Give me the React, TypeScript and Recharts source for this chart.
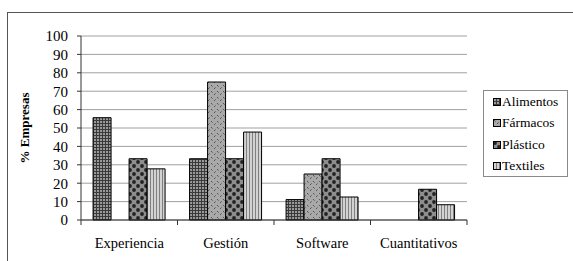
import React from 'react';
import { BarChart, Bar, XAxis, YAxis, CartesianGrid, Legend } from 'recharts';

const categories = ['Experiencia', 'Gestión', 'Software', 'Cuantitativos'];
const seriesNames = ['Alimentos', 'Fármacos', 'Plástico', 'Textiles'];
const alimentos = [55.6, 33.3, 11.1, 0];
const farmacos = [0, 75, 25, 0];
const plastico = [33.3, 33.3, 33.3, 16.7];
const textiles = [27.8, 47.8, 12.5, 8.3];
const yTicks = [0, 10, 20, 30, 40, 50, 60, 70, 80, 90, 100];

const seriesValues = [alimentos, farmacos, plastico, textiles];
const patternIds = ['pAlim', 'pFarm', 'pPlas', 'pText'];

const data = categories.map((name, i) => {
  const row: Record<string, string | number> = { name };
  seriesNames.forEach((s, j) => {
    row[s] = seriesValues[j][i];
  });
  return row;
});

const FONT = "'Liberation Serif', 'DejaVu Serif', serif";

const XTick = (props: any) => {
  const { x, y, payload, index, width, visibleTicksCount } = props;
  const n = visibleTicksCount || categories.length;
  const band = (width || 386) / n;
  const axisY = y - 5;
  const left = x - band / 2;
  const right = x + band / 2;
  return (
    <g>
      <line x1={left} x2={left} y1={axisY} y2={axisY + 5} stroke="#333" strokeWidth={1} />
      {index === n - 1 && <line x1={right} x2={right} y1={axisY} y2={axisY + 5} stroke="#333" strokeWidth={1} />}
      <text x={x} y={axisY + 28} textAnchor="middle" style={{ fontFamily: FONT }} fontSize={14.5} fill="#000">
        {payload.value}
      </text>
    </g>
  );
};

const LegendBox = () => (
  <div
    style={{
      width: 85,
      height: 87,
      border: '1px solid #8a8a8a',
      background: '#fff',
      boxSizing: 'border-box',
      fontFamily: FONT,
      fontSize: 13.5,
      color: '#000',
    }}
  >
    {seriesNames.map((n, i) => (
      <div key={n} style={{ display: 'flex', alignItems: 'center', height: 21.5, paddingLeft: 9 }}>
        <svg width={8} height={8} style={{ display: 'block' }}>
          <rect x={0.5} y={0.5} width={7} height={7} fill={`url(#${patternIds[i]})`} stroke="#000" strokeWidth={1} />
        </svg>
        <span style={{ marginLeft: 1, lineHeight: '14px' }}>{n}</span>
      </div>
    ))}
  </div>
);

export default function App() {
  return (
    <div style={{ position: 'absolute', left: 0, top: 0, width: 573, height: 261, background: '#fff', overflow: 'hidden', fontFamily: FONT }}>
      <div
        style={{
          position: 'absolute',
          left: 7,
          top: 12,
          right: -2,
          bottom: -2,
          borderTop: '1px solid #555',
          borderLeft: '1px solid #555',
        }}
      />
      <div style={{ position: 'absolute', left: 0, top: 0 }}>
        <BarChart
          width={573}
          height={261}
          data={data}
          margin={{ top: 36, right: 106, bottom: 11, left: 0 }}
          barCategoryGap="12.5%"
          barGap={0}
        >
          <defs>
            <pattern id="pAlim" patternUnits="userSpaceOnUse" width={3} height={3}>
              <rect width={3} height={3} fill="#9a9a9a" />
              <path d="M0 0.5H3M0.5 0V3" stroke="#3a3a3a" strokeWidth={1} />
            </pattern>
            <pattern id="pFarm" patternUnits="userSpaceOnUse" width={6} height={6}>
              <rect width={6} height={6} fill="#a9a9a9" />
              <rect x={1} y={1} width={1} height={1} fill="#555" />
              <rect x={2} y={2} width={1} height={1} fill="#777" />
              <rect x={4} y={4} width={1} height={1} fill="#555" />
              <rect x={5} y={3} width={1} height={1} fill="#777" />
            </pattern>
            <pattern id="pPlas" patternUnits="userSpaceOnUse" width={8} height={8}>
              <rect width={8} height={8} fill="#8e8e8e" />
              <circle cx={2} cy={2} r={1.9} fill="#222" />
              <circle cx={6} cy={6} r={1.9} fill="#222" />
            </pattern>
            <pattern id="pText" patternUnits="userSpaceOnUse" width={3} height={3}>
              <rect width={3} height={3} fill="#d2d2d2" />
              <rect x={0} width={1} height={3} fill="#808080" />
            </pattern>
          </defs>
          <CartesianGrid vertical={false} stroke="#a0a0a0" strokeWidth={1} />
          <XAxis
            dataKey="name"
            interval={0}
            tick={<XTick />}
            tickLine={false}
            tickSize={5}
            tickMargin={0}
            axisLine={{ stroke: '#333' }}
            height={30}
          />
          <YAxis
            domain={[0, 100]}
            ticks={yTicks}
            interval={0}
            width={81}
            tickSize={4}
            tickMargin={9}
            axisLine={{ stroke: '#333' }}
            tickLine={{ stroke: '#333' }}
            tick={{ fontFamily: FONT, fontSize: 15, fill: '#000', style: { fontFamily: FONT } }}
            label={{
              content: () => (
                <text
                  x={29}
                  y={128}
                  transform="rotate(-90 29 128)"
                  textAnchor="middle"
                  style={{ fontFamily: FONT }}
                  fontSize={13}
                  fontWeight="bold"
                  fill="#000"
                >
                  % Empresas
                </text>
              ),
            }}
          />
          <YAxis
            yAxisId="r"
            orientation="right"
            domain={[0, 100]}
            width={0}
            tick={false}
            tickLine={false}
            axisLine={{ stroke: '#a0a0a0' }}
          />
          <Legend
            layout="vertical"
            align="center"
            verticalAlign="middle"
            content={<LegendBox />}
            wrapperStyle={{ left: 483, top: 90, width: 85, height: 87 }}
          />
          {seriesNames.map((s, i) => (
            <Bar
              key={s}
              dataKey={s}
              fill={`url(#${patternIds[i]})`}
              stroke="#000"
              strokeWidth={1}
              isAnimationActive={false}
            />
          ))}
        </BarChart>
      </div>
    </div>
  );
}
